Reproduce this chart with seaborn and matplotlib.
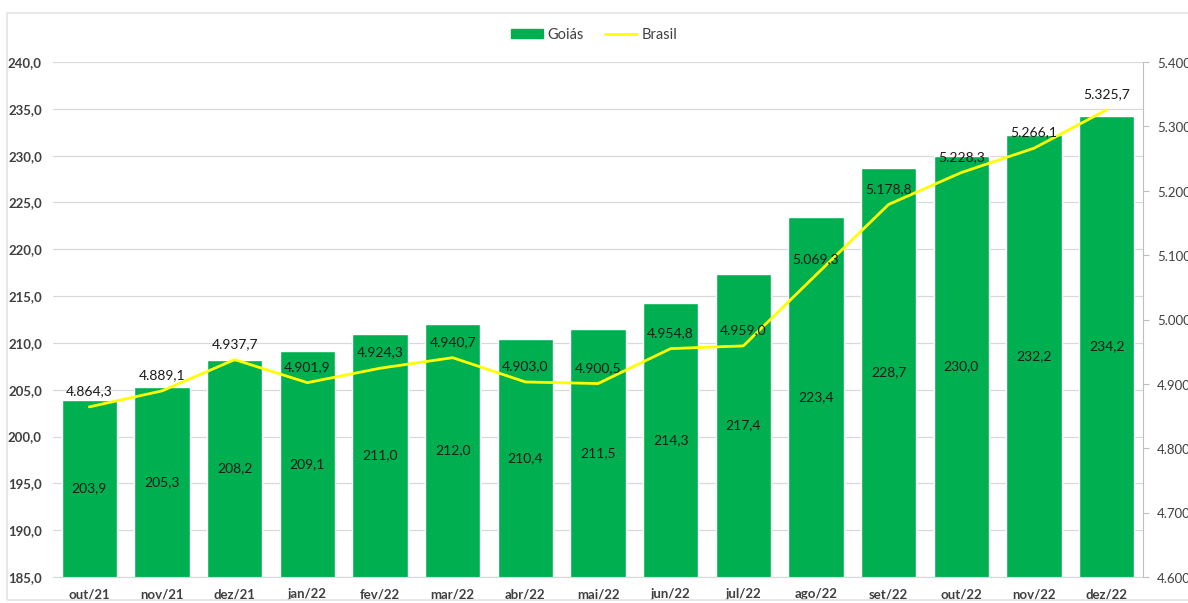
#!/usr/bin/env python3

import matplotlib as mpl
from matplotlib import pyplot as plt
import seaborn as sns
import pandas as pd

sns.set_style('white')
plt.rcParams['font.family'] = ['Lato', 'DejaVu Sans']

meses = ['out/21', 'nov/21', 'dez/21', 'jan/22', 'fev/22', 'mar/22', 'abr/22', 'mai/22',
         'jun/22', 'jul/22', 'ago/22', 'set/22', 'out/22', 'nov/22', 'dez/22']
goias = [203.9, 205.3, 208.2, 209.1, 211.0, 212.0, 210.4, 211.5, 214.3, 217.4, 223.4, 228.7, 230.0, 232.2, 234.2]
brasil = [4864.3, 4889.1, 4937.7, 4901.9, 4924.3, 4940.7, 4903.0, 4900.5, 4954.8, 4959.0,
          5069.3, 5178.8, 5228.3, 5266.1, 5325.7]

df = pd.DataFrame({'mes': meses, 'Goiás': goias, 'Brasil': brasil})

verde = '#00B050'
amarelo = '#FFFF00'
cinza = '#D9D9D9'
texto = '#404040'


def br(v, pos=None):
    s = f"{v:,.1f}"
    return s.replace(',', 'X').replace('.', ',').replace('X', '.')


fig = plt.figure(figsize=(11.88, 6.03), dpi=100)
ax = fig.add_axes([53 / 1188, 1 - 577 / 603, (1143 - 53) / 1188, (577 - 62) / 603])

sns.barplot(data=df, x='mes', y='Goiás', color=verde, width=0.76, saturation=1, ax=ax, zorder=2)
ax.set_ylim(185, 240)
ax.set_yticks(range(185, 241, 5))
ax.yaxis.set_major_formatter(mpl.ticker.FuncFormatter(br))
ax.grid(True, axis='y', color=cinza, linewidth=0.9, zorder=0)
ax.set_axisbelow(True)
ax.set_xlabel('')
ax.set_ylabel('')
ax.set_xlim(-0.5, len(meses) - 0.5)
for s in ['top', 'right', 'left']:
    ax.spines[s].set_visible(False)
ax.spines['bottom'].set_color(cinza)
ax.tick_params(axis='y', length=0, labelsize=9.5, labelcolor=texto, pad=8)
ax.tick_params(axis='x', length=0, labelsize=9.5, labelcolor=texto, pad=8)
for lbl in ax.get_xticklabels() + ax.get_yticklabels():
    lbl.set_fontweight('bold')
ax.set_xticks([i + 0.5 for i in range(len(meses) - 1)], minor=True)
ax.tick_params(axis='x', which='minor', length=4, color=cinza)

for i, v in enumerate(goias):
    ax.text(i, (185 + v) / 2, br(v), ha='center', va='center', fontsize=10, color='#1a1a1a', zorder=5)

ax2 = ax.twinx()
sns.lineplot(data=df, x='mes', y='Brasil', color=amarelo, linewidth=2, ax=ax2, sort=False, zorder=4)
ax2.set_ylim(4600, 5400)
ax2.set_yticks(range(4600, 5401, 100))
ax2.yaxis.set_major_formatter(mpl.ticker.FuncFormatter(br))
ax2.set_ylabel('')
ax2.set_xlabel('')
for s in ['top', 'left', 'bottom']:
    ax2.spines[s].set_visible(False)
ax2.spines['right'].set_color('#BFBFBF')
ax2.tick_params(axis='y', length=4, color='#BFBFBF', labelsize=9.5, labelcolor=texto, pad=6)

for i, v in enumerate(brasil):
    ax2.annotate(br(v), (i, v), xytext=(0, 7), textcoords='offset points',
                 ha='center', va='bottom', fontsize=10, color='#1a1a1a', zorder=6)

handles = [mpl.patches.Patch(color=verde), mpl.lines.Line2D([], [], color=amarelo, linewidth=2)]
fig.legend(handles, ['Goiás', 'Brasil'], loc='center', bbox_to_anchor=(0.5, 1 - 35 / 603), ncol=2,
           frameon=False, fontsize=10.5, handlelength=2.2, handleheight=0.6, columnspacing=1.5,
           handletextpad=0.3, labelcolor=texto)

fig.patches.append(mpl.patches.Rectangle((7 / 1188, 0.005), 1.2, 1 - 13 / 603 - 0.005, transform=fig.transFigure,
                                         fill=False, edgecolor='#E3E3E3', linewidth=1.2))

fig.savefig('out.png', dpi=100)
